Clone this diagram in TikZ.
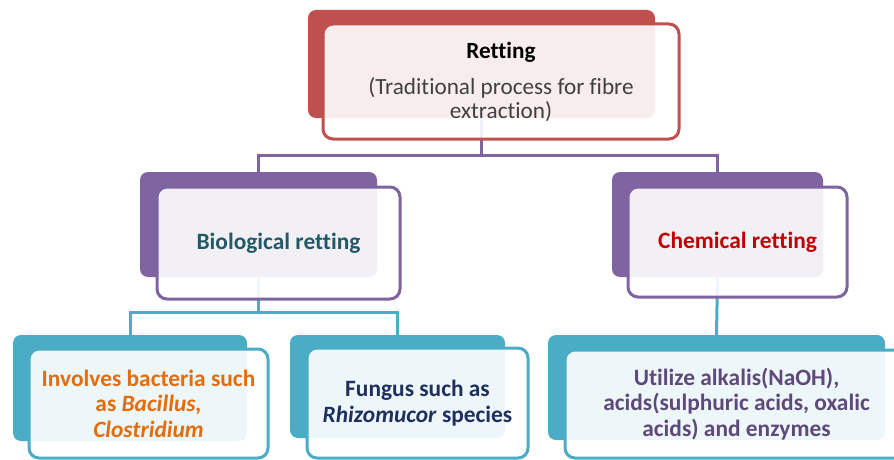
\documentclass[tikz,border=0pt]{standalone}
\usepackage{fontspec}
\setmainfont{Carlito}[Ligatures=NoCommon]
\definecolor{cred}{HTML}{C0504D}
\definecolor{cpurple}{HTML}{8064A2}
\definecolor{ccyan}{HTML}{4BACC6}
\definecolor{tgray}{HTML}{404040}
\definecolor{tteal}{HTML}{215968}
\definecolor{tred}{HTML}{C00000}
\definecolor{torange}{HTML}{E46C0A}
\definecolor{tnavy}{HTML}{1F2F5E}
\definecolor{tpurple}{HTML}{5F497A}
\tikzset{
  backbox/.style={rectangle, fill=#1, draw=none, rounded corners=8pt, inner sep=0pt},
  frontbox/.style={rectangle, fill=white, fill opacity=0.9, text opacity=1, draw=#1, draw opacity=1,
    line width=3pt, rounded corners=10pt, inner sep=0pt, align=center,
    font=\fontsize{23.4}{25.5}\selectfont\bfseries},
  conn/.style={draw=#1, line width=3pt}
}
\begin{document}
\begin{tikzpicture}[x=1pt,y=-1pt]
\useasboundingbox (0,0) rectangle (894,460);
% back boxes
\node[backbox=cred, minimum width=347pt, minimum height=108pt] (tb) at (481.5,64) {};
\node[backbox=cpurple, minimum width=237pt, minimum height=105pt] (bb) at (258.5,224.5) {};
\node[backbox=cpurple, minimum width=211pt, minimum height=105pt] (cb) at (717.5,224.5) {};
\node[backbox=ccyan, minimum width=234pt, minimum height=106pt] (lb) at (130,388) {};
\node[backbox=ccyan, minimum width=215pt, minimum height=103pt] (mb) at (397.5,386.5) {};
\node[backbox=ccyan, minimum width=337pt, minimum height=105pt] (rb) at (716.5,387.5) {};
% connectors
\coordinate (j1) at (481.5,155);
\coordinate (j2) at (258.5,312);
\draw[conn=cpurple] (tb.south) -- (j1) -| (bb.north);
\draw[conn=cpurple] (j1) -| (cb.north);
\draw[conn=ccyan] (bb.south) -- (j2) -| (lb.north);
\draw[conn=ccyan] (j2) -| (mb.north);
\draw[conn=ccyan] (cb.south) -- (rb.north);
% front boxes
\node[frontbox=cred, minimum width=356pt, minimum height=115pt, text=tgray,
  font=\fontsize{23.2}{23.5}\selectfont] (tf) at (501,81.5)
  {\textcolor{black}{\bfseries Retting}\\[13pt](Traditional process for fibre\\extraction)};
\node[frontbox=cpurple, minimum width=243pt, minimum height=112pt, text=tteal] (bf) at (278.5,243)
  {\raisebox{-1.5pt}{Biological retting}};
\node[frontbox=cpurple, minimum width=219pt, minimum height=110pt, text=tred] (cf) at (737.5,242)
  {\raisebox{-2pt}{Chemical retting}};
\node[frontbox=ccyan, minimum width=239pt, minimum height=109pt, text=torange] (lf) at (148.5,403.5)
  {Involves bacteria such\\as \textit{Bacillus,}\\\textit{Clostridium}};
\node[frontbox=ccyan, minimum width=221pt, minimum height=110pt, text=tnavy] (mf) at (417.5,403)
  {Fungus such as\\\textit{Rhizomucor} species};
\node[frontbox=ccyan, minimum width=343pt, minimum height=108pt, text=tpurple] (rf) at (736.5,404)
  {Utilize alkalis(NaOH),\\acids(sulphuric acids, oxalic\\acids) and enzymes};
\end{tikzpicture}
\end{document}
